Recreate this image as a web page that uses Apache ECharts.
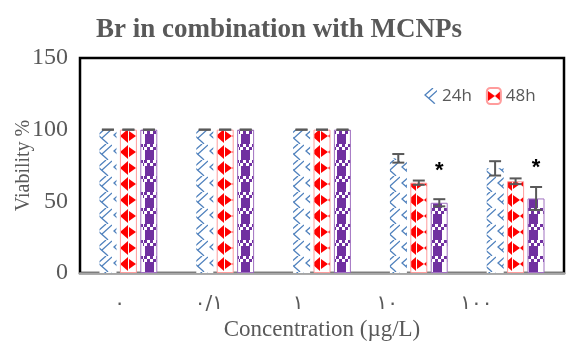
<!DOCTYPE html>
<html>
<head>
<meta charset="utf-8">
<script src="https://cdn.jsdelivr.net/npm/echarts@6/dist/echarts.min.js"></script>
<style>
  html, body { margin: 0; padding: 0; background: #fff; }
  #chart { width: 566px; height: 341px; }
</style>
</head>
<body>
<div id="chart"></div>
<script>
// data
const categories = ['۰', '۰/۱', '۱', '۱۰', '۱۰۰'];
const seriesNames = ['24h', '48h', '72h'];
const viability24 = [100, 100, 100, 80, 73];
const viability48 = [100, 100, 100, 63, 64];
const viability72 = [100, 100, 100, 49, 52];
const err24 = [0, 0, 0, 3, 5];
const err48 = [0, 0, 0, 1.5, 2];
const err72 = [0, 0, 0, 2.5, 8];
// significance marks over the 72h bars, and the height they sit at
const stars72 = ['', '', '', '*', '*'];
const starLevel72 = [0, 0, 0, 71, 73];
const yTicks = [0, 50, 100, 150];

const grey = '#595959';
const barWidth = 17;
const barStep = 20.5;

// small canvas tiles used as bar fills
function tile(w, h, draw) {
  const c = document.createElement('canvas');
  c.width = w; c.height = h;
  const g = c.getContext('2d');
  draw(g);
  return c;
}

const bluePattern = tile(16, 16, g => {
  g.fillStyle = '#fff';
  g.fillRect(0, 0, 16, 16);
  g.strokeStyle = '#4f81bd';
  g.lineWidth = 1.3;
  g.beginPath();
  g.moveTo(10, 0); g.lineTo(2, 7); g.lineTo(10, 14);
  g.moveTo(6, 10); g.lineTo(16, 1);
  g.moveTo(10, 14); g.lineTo(12, 16);
  g.stroke();
});

const redPattern = tile(16, 16, g => {
  g.fillStyle = '#fff';
  g.fillRect(0, 0, 16, 16);
  g.fillStyle = '#ff0000';
  g.beginPath();
  g.moveTo(1, 3); g.lineTo(8, 8); g.lineTo(1, 13);
  g.closePath(); g.fill();
  g.beginPath();
  g.moveTo(16, 1); g.lineTo(8, 8); g.lineTo(16, 15);
  g.closePath(); g.fill();
});

const purplePattern = tile(16, 16, g => {
  g.fillStyle = '#fff';
  g.fillRect(0, 0, 16, 16);
  g.fillStyle = '#7030a0';
  g.fillRect(1, 0, 9, 16);
  for (let y = 0; y < 6; y += 3) {
    for (let x = 0; x < 16; x += 3) {
      if (((x + y) / 3) % 2 === 0) g.fillRect(x, y, 3, 3);
    }
  }
  g.fillStyle = '#fff';
  for (let y = 0; y < 6; y += 3) {
    for (let x = 0; x < 16; x += 3) {
      if (((x + y) / 3) % 2 === 1) g.fillRect(x, y, 3, 3);
    }
  }
});

const patterns = [bluePattern, redPattern, purplePattern];
const values = [viability24, viability48, viability72];
const errors = [err24, err48, err72];
const borders = [null, '#ff9c9c', '#a070c0'];

const chart = echarts.init(document.getElementById('chart'));

const barSeries = seriesNames.map((name, s) => ({
  name: name,
  type: 'bar',
  xAxisIndex: 0,
  yAxisIndex: 0,
  barWidth: barWidth,
  barGap: '20%',
  itemStyle: {
    color: { image: patterns[s], repeat: 'repeat' },
    borderColor: borders[s] || 'transparent',
    borderWidth: borders[s] ? 1 : 0
  },
  data: values[s]
}));

// error bars (and the * marks) drawn on top of each bar
const errorSeries = seriesNames.map((name, s) => ({
  name: name + ' err',
  type: 'custom',
  xAxisIndex: 0,
  yAxisIndex: 0,
  z: 5,
  data: values[s].map((v, i) => [
    i, v, errors[s][i],
    s === 2 ? stars72[i] : '',
    s === 2 ? starLevel72[i] : 0
  ]),
  renderItem: (params, api) => {
    const off = (s - 1) * barStep;
    const hi = api.coord([api.value(0), api.value(1) + api.value(2)]);
    const lo = api.coord([api.value(0), api.value(1) - api.value(2)]);
    const x = hi[0] + off;
    const cap = 6;
    const st = { stroke: grey, lineWidth: 2 };
    const children = [
      { type: 'line', shape: { x1: x, y1: hi[1], x2: x, y2: lo[1] }, style: st },
      { type: 'line', shape: { x1: x - cap, y1: hi[1], x2: x + cap, y2: hi[1] }, style: st },
      { type: 'line', shape: { x1: x - cap, y1: lo[1], x2: x + cap, y2: lo[1] }, style: st }
    ];
    const star = api.value(3);
    if (star) {
      const sp = api.coord([api.value(0), api.value(4)]);
      children.push({
        type: 'text',
        style: {
          text: star, x: x, y: sp[1],
          fill: '#000', font: 'bold 22px "Liberation Sans"',
          align: 'center', verticalAlign: 'middle'
        }
      });
    }
    return { type: 'group', children: children };
  }
}));

chart.setOption({
  animation: false,
  title: {
    text: 'Br in combination with MCNPs',
    left: 91,
    top: 12,
    textStyle: {
      fontFamily: 'Liberation Serif',
      fontWeight: 'bold',
      fontSize: 27,
      color: grey
    }
  },
  legend: {
    data: ['24h', '48h'],
    left: 418,
    top: 82,
    itemWidth: 14,
    itemHeight: 16,
    itemGap: 14,
    textStyle: { fontFamily: 'Open Sans', fontSize: 17, color: grey }
  },
  grid: [
    {
      left: 80, right: 2, top: 58, bottom: 68,
      outerBoundsMode: 'none',
      show: true, borderColor: '#000', borderWidth: 2.5
    },
    // only used for placing the category labels, which sit left of the bars
    { left: 75, width: 446, top: 58, bottom: 68, outerBoundsMode: 'none' }
  ],
  xAxis: [
    {
      type: 'category',
      gridIndex: 0,
      data: categories,
      axisLine: { show: true, lineStyle: { color: '#a6a6a6', width: 2.5 } },
      axisTick: { show: false },
      axisLabel: { show: false },
      name: 'Concentration (µg/L)',
      nameLocation: 'middle',
      nameGap: 45,
      nameMoveOverlap: false,
      nameTextStyle: { fontFamily: 'Liberation Serif', fontSize: 23, color: grey }
    },
    {
      type: 'category',
      gridIndex: 1,
      data: categories,
      axisLine: { show: false },
      axisTick: { show: false },
      axisLabel: {
        margin: 21,
        fontFamily: 'DejaVu Sans',
        fontSize: 20,
        color: grey
      }
    }
  ],
  yAxis: [
    {
      type: 'value',
      gridIndex: 0,
      min: yTicks[0],
      max: yTicks[yTicks.length - 1],
      interval: yTicks[1] - yTicks[0],
      splitLine: { show: false },
      axisLine: { show: false },
      axisTick: { show: false },
      axisLabel: {
        margin: 12,
        fontFamily: 'Liberation Serif',
        fontSize: 24,
        color: grey
      },
      name: 'Viability %',
      nameLocation: 'middle',
      nameRotate: 90,
      nameGap: 46,
      nameMoveOverlap: false,
      nameTextStyle: { fontFamily: 'Liberation Serif', fontSize: 20, color: grey }
    },
    {
      type: 'value',
      gridIndex: 1,
      show: false,
      min: 0,
      max: 150
    }
  ],
  series: barSeries.concat(errorSeries)
});
</script>
</body>
</html>
